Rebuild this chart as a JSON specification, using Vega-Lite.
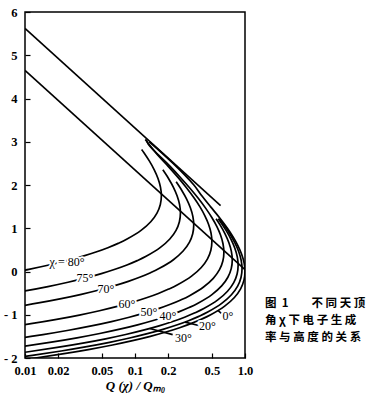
{
  "$schema": "https://vega.github.io/schema/vega-lite/v6.json",
  "width": 220,
  "height": 346,
  "autosize": {"type": "none"},
  "padding": {"left": 25, "top": 12, "right": 123, "bottom": 42},
  "background": "white",
  "config": {
    "view": {"stroke": "black", "strokeWidth": 1.5},
    "axis": {
      "grid": false,
      "domain": false,
      "labelFont": "Liberation Serif",
      "labelFontWeight": "bold",
      "labelFontSize": 12.5,
      "labelColor": "black",
      "tickColor": "black",
      "tickWidth": 1.2,
      "tickSize": -5,
      "labelFlush": false,
      "labelOverlap": false
    }
  },
  "datasets": {
    "curves": [
      {"c":"0","i":0,"q":0.006308,"z":-2.1},{"c":"0","i":1,"q":0.012412,"z":-2.0},{"c":"0","i":2,"q":0.02268,"z":-1.9},{"c":"0","i":3,"q":0.03877,"z":-1.8},{"c":"0","i":4,"q":0.06242,"z":-1.7},{"c":"0","i":5,"q":0.09507,"z":-1.6},{"c":"0","i":6,"q":0.13784,"z":-1.5},{"c":"0","i":7,"q":0.19109,"z":-1.4},{"c":"0","i":8,"q":0.25434,"z":-1.3},{"c":"0","i":9,"q":0.32628,"z":-1.2},{"c":"0","i":10,"q":0.40496,"z":-1.1},{"c":"0","i":11,"q":0.48772,"z":-1.0},{"c":"0","i":12,"q":0.65342,"z":-0.8},{"c":"0","i":13,"q":0.80091,"z":-0.6},{"c":"0","i":14,"q":0.91229,"z":-0.4},{"c":"0","i":15,"q":0.97883,"z":-0.2},{"c":"0","i":16,"q":1.0,"z":0.0},{"c":"0","i":17,"q":0.98147,"z":0.2},{"c":"0","i":18,"q":0.93211,"z":0.4},{"c":"0","i":19,"q":0.86174,"z":0.6},{"c":"0","i":20,"q":0.77933,"z":0.8},{"c":"0","i":21,"q":0.6922,"z":1.0},{"c":"0","i":22,"q":0.58478,"z":1.25},{"c":"0","i":23,"q":0.48522,"z":1.5},{"c":"0","i":24,"q":0.405,"z":1.75},{"c":"0","i":25,"q":0.343,"z":2.0},{"c":"0","i":26,"q":0.222,"z":2.5},{"c":"0","i":27,"q":0.135,"z":3.0},

      {"c":"20","i":0,"q":0.005928,"z":-2.038},{"c":"20","i":1,"q":0.011664,"z":-1.938},{"c":"20","i":2,"q":0.021312,"z":-1.838},{"c":"20","i":3,"q":0.036432,"z":-1.738},{"c":"20","i":4,"q":0.058656,"z":-1.638},{"c":"20","i":5,"q":0.089337,"z":-1.538},{"c":"20","i":6,"q":0.12953,"z":-1.438},{"c":"20","i":7,"q":0.17957,"z":-1.338},{"c":"20","i":8,"q":0.239,"z":-1.238},{"c":"20","i":9,"q":0.30661,"z":-1.138},{"c":"20","i":10,"q":0.38054,"z":-1.038},{"c":"20","i":11,"q":0.45831,"z":-0.938},{"c":"20","i":12,"q":0.61402,"z":-0.738},{"c":"20","i":13,"q":0.75262,"z":-0.538},{"c":"20","i":14,"q":0.85728,"z":-0.338},{"c":"20","i":15,"q":0.91981,"z":-0.138},{"c":"20","i":16,"q":0.9397,"z":0.062},{"c":"20","i":17,"q":0.92229,"z":0.262},{"c":"20","i":18,"q":0.8759,"z":0.462},{"c":"20","i":19,"q":0.80978,"z":0.662},{"c":"20","i":20,"q":0.73234,"z":0.862},{"c":"20","i":21,"q":0.65046,"z":1.062},{"c":"20","i":22,"q":0.58619,"z":1.22},

      {"c":"30","i":0,"q":0.005463,"z":-1.956},{"c":"30","i":1,"q":0.010749,"z":-1.856},{"c":"30","i":2,"q":0.019641,"z":-1.756},{"c":"30","i":3,"q":0.033575,"z":-1.656},{"c":"30","i":4,"q":0.054056,"z":-1.556},{"c":"30","i":5,"q":0.082331,"z":-1.456},{"c":"30","i":6,"q":0.11937,"z":-1.356},{"c":"30","i":7,"q":0.16548,"z":-1.256},{"c":"30","i":8,"q":0.22026,"z":-1.156},{"c":"30","i":9,"q":0.28256,"z":-1.056},{"c":"30","i":10,"q":0.3507,"z":-0.956},{"c":"30","i":11,"q":0.42237,"z":-0.856},{"c":"30","i":12,"q":0.56586,"z":-0.656},{"c":"30","i":13,"q":0.69359,"z":-0.456},{"c":"30","i":14,"q":0.79004,"z":-0.256},{"c":"30","i":15,"q":0.84767,"z":-0.056},{"c":"30","i":16,"q":0.866,"z":0.144},{"c":"30","i":17,"q":0.84995,"z":0.344},{"c":"30","i":18,"q":0.80721,"z":0.544},{"c":"30","i":19,"q":0.74627,"z":0.744},{"c":"30","i":20,"q":0.6749,"z":0.944},{"c":"30","i":21,"q":0.59945,"z":1.144},{"c":"30","i":22,"q":0.57069,"z":1.22},

      {"c":"40","i":0,"q":0.004832,"z":-1.8335},{"c":"40","i":1,"q":0.009508,"z":-1.7335},{"c":"40","i":2,"q":0.017373,"z":-1.6335},{"c":"40","i":3,"q":0.029698,"z":-1.5335},{"c":"40","i":4,"q":0.047814,"z":-1.4335},{"c":"40","i":5,"q":0.072824,"z":-1.3335},{"c":"40","i":6,"q":0.10559,"z":-1.2335},{"c":"40","i":7,"q":0.14637,"z":-1.1335},{"c":"40","i":8,"q":0.19482,"z":-1.0335},{"c":"40","i":9,"q":0.24993,"z":-0.9335},{"c":"40","i":10,"q":0.3102,"z":-0.8335},{"c":"40","i":11,"q":0.37359,"z":-0.7335},{"c":"40","i":12,"q":0.50052,"z":-0.5335},{"c":"40","i":13,"q":0.6135,"z":-0.3335},{"c":"40","i":14,"q":0.69881,"z":-0.1335},{"c":"40","i":15,"q":0.74978,"z":0.0665},{"c":"40","i":16,"q":0.766,"z":0.2665},{"c":"40","i":17,"q":0.75181,"z":0.4665},{"c":"40","i":18,"q":0.714,"z":0.6665},{"c":"40","i":19,"q":0.66009,"z":0.8665},{"c":"40","i":20,"q":0.59697,"z":1.0665},{"c":"40","i":21,"q":0.54583,"z":1.22},

      {"c":"50","i":0,"q":0.007978,"z":-1.5581},{"c":"50","i":1,"q":0.014579,"z":-1.4581},{"c":"50","i":2,"q":0.024921,"z":-1.3581},{"c":"50","i":3,"q":0.040124,"z":-1.2581},{"c":"50","i":4,"q":0.061111,"z":-1.1581},{"c":"50","i":5,"q":0.088604,"z":-1.0581},{"c":"50","i":6,"q":0.12283,"z":-0.9581},{"c":"50","i":7,"q":0.16349,"z":-0.8581},{"c":"50","i":8,"q":0.20973,"z":-0.7581},{"c":"50","i":9,"q":0.26031,"z":-0.6581},{"c":"50","i":10,"q":0.31351,"z":-0.5581},{"c":"50","i":11,"q":0.42002,"z":-0.3581},{"c":"50","i":12,"q":0.51482,"z":-0.1581},{"c":"50","i":13,"q":0.58642,"z":0.0419},{"c":"50","i":14,"q":0.62919,"z":0.2419},{"c":"50","i":15,"q":0.6428,"z":0.4419},{"c":"50","i":16,"q":0.63089,"z":0.6419},{"c":"50","i":17,"q":0.59916,"z":0.8419},{"c":"50","i":18,"q":0.55393,"z":1.0419},{"c":"50","i":19,"q":0.50095,"z":1.2419},{"c":"50","i":20,"q":0.44495,"z":1.4419},{"c":"50","i":21,"q":0.3759,"z":1.6919},{"c":"50","i":22,"q":0.3119,"z":1.9419},{"c":"50","i":23,"q":0.25519,"z":2.1919},{"c":"50","i":24,"q":0.20655,"z":2.4419},{"c":"50","i":25,"q":0.13212,"z":2.9419},{"c":"50","i":26,"q":0.1265,"z":3.05},

      {"c":"60","i":0,"q":0.006206,"z":-1.3069},{"c":"60","i":1,"q":0.01134,"z":-1.2069},{"c":"60","i":2,"q":0.019385,"z":-1.1069},{"c":"60","i":3,"q":0.03121,"z":-1.0069},{"c":"60","i":4,"q":0.047535,"z":-0.9069},{"c":"60","i":5,"q":0.06892,"z":-0.8069},{"c":"60","i":6,"q":0.095545,"z":-0.7069},{"c":"60","i":7,"q":0.12717,"z":-0.6069},{"c":"60","i":8,"q":0.16314,"z":-0.5069},{"c":"60","i":9,"q":0.20248,"z":-0.4069},{"c":"60","i":10,"q":0.24386,"z":-0.3069},{"c":"60","i":11,"q":0.32671,"z":-0.1069},{"c":"60","i":12,"q":0.40046,"z":0.0931},{"c":"60","i":13,"q":0.45615,"z":0.2931},{"c":"60","i":14,"q":0.48942,"z":0.4931},{"c":"60","i":15,"q":0.5,"z":0.6931},{"c":"60","i":16,"q":0.49074,"z":0.8931},{"c":"60","i":17,"q":0.46606,"z":1.0931},{"c":"60","i":18,"q":0.43087,"z":1.2931},{"c":"60","i":19,"q":0.38967,"z":1.4931},{"c":"60","i":20,"q":0.3461,"z":1.6931},{"c":"60","i":21,"q":0.29239,"z":1.9431},{"c":"60","i":22,"q":0.24261,"z":2.1931},{"c":"60","i":23,"q":0.1985,"z":2.4431},{"c":"60","i":24,"q":0.16067,"z":2.6931},{"c":"60","i":25,"q":0.124,"z":3.05},

      {"c":"70","i":0,"q":0.0077566,"z":-0.8271},{"c":"70","i":1,"q":0.013259,"z":-0.7271},{"c":"70","i":2,"q":0.021348,"z":-0.6271},{"c":"70","i":3,"q":0.032514,"z":-0.5271},{"c":"70","i":4,"q":0.047141,"z":-0.4271},{"c":"70","i":5,"q":0.065353,"z":-0.3271},{"c":"70","i":6,"q":0.086984,"z":-0.2271},{"c":"70","i":7,"q":0.11159,"z":-0.1271},{"c":"70","i":8,"q":0.1385,"z":-0.0271},{"c":"70","i":9,"q":0.1668,"z":0.0729},{"c":"70","i":10,"q":0.22347,"z":0.2729},{"c":"70","i":11,"q":0.27391,"z":0.4729},{"c":"70","i":12,"q":0.312,"z":0.6729},{"c":"70","i":13,"q":0.33476,"z":0.8729},{"c":"70","i":14,"q":0.342,"z":1.0729},{"c":"70","i":15,"q":0.33566,"z":1.2729},{"c":"70","i":16,"q":0.31878,"z":1.4729},{"c":"70","i":17,"q":0.29472,"z":1.6729},{"c":"70","i":18,"q":0.26653,"z":1.8729},{"c":"70","i":19,"q":0.23673,"z":2.0729},

      {"c":"75","i":0,"q":0.0058696,"z":-0.5483},{"c":"75","i":1,"q":0.010034,"z":-0.4483},{"c":"75","i":2,"q":0.016154,"z":-0.3483},{"c":"75","i":3,"q":0.024604,"z":-0.2483},{"c":"75","i":4,"q":0.035673,"z":-0.1483},{"c":"75","i":5,"q":0.049454,"z":-0.0483},{"c":"75","i":6,"q":0.065823,"z":0.0517},{"c":"75","i":7,"q":0.084441,"z":0.1517},{"c":"75","i":8,"q":0.1048,"z":0.2517},{"c":"75","i":9,"q":0.12622,"z":0.3517},{"c":"75","i":10,"q":0.16911,"z":0.5517},{"c":"75","i":11,"q":0.20728,"z":0.7517},{"c":"75","i":12,"q":0.2361,"z":0.9517},{"c":"75","i":13,"q":0.25332,"z":1.1517},{"c":"75","i":14,"q":0.2588,"z":1.3517},{"c":"75","i":15,"q":0.254,"z":1.5517},{"c":"75","i":16,"q":0.24123,"z":1.7517},{"c":"75","i":17,"q":0.22302,"z":1.9517},{"c":"75","i":18,"q":0.20169,"z":2.1517},{"c":"75","i":19,"q":0.17914,"z":2.3517},

      {"c":"80","i":0,"q":0.0067324,"z":-0.0493},{"c":"80","i":1,"q":0.010839,"z":0.0507},{"c":"80","i":2,"q":0.016509,"z":0.1507},{"c":"80","i":3,"q":0.023936,"z":0.2507},{"c":"80","i":4,"q":0.033183,"z":0.3507},{"c":"80","i":5,"q":0.044166,"z":0.4507},{"c":"80","i":6,"q":0.056659,"z":0.5507},{"c":"80","i":7,"q":0.070321,"z":0.6507},{"c":"80","i":8,"q":0.084693,"z":0.7507},{"c":"80","i":9,"q":0.11347,"z":0.9507},{"c":"80","i":10,"q":0.13908,"z":1.1507},{"c":"80","i":11,"q":0.15842,"z":1.3507},{"c":"80","i":12,"q":0.16997,"z":1.5507},{"c":"80","i":13,"q":0.17365,"z":1.7507},{"c":"80","i":14,"q":0.17043,"z":1.9507},{"c":"80","i":15,"q":0.16186,"z":2.1507},{"c":"80","i":16,"q":0.14964,"z":2.3507},{"c":"80","i":17,"q":0.13533,"z":2.5507},{"c":"80","i":18,"q":0.1202,"z":2.7507},{"c":"80","i":19,"q":0.1149,"z":2.8207}
    ],
    "lines": [
      {"id":"upper","q":0.01,"z":5.62},{"id":"upper","q":0.6,"z":1.525},
      {"id":"lower","q":0.01,"z":4.65},{"id":"lower","q":1.0,"z":0.044},
      {"id":"lead0","q":0.567,"z":-0.9},{"id":"lead0","q":0.61,"z":-0.97},
      {"id":"lead20","q":0.285,"z":-1.17},{"id":"lead20","q":0.38,"z":-1.25},
      {"id":"lead30","q":0.136,"z":-1.32},{"id":"lead30","q":0.22,"z":-1.46}
    ],
    "labels": [
      {"t":"χ = 80°","q":0.0241,"z":0.22},
      {"t":"75°","q":0.0351,"z":-0.16},
      {"t":"70°","q":0.0545,"z":-0.4},
      {"t":"60°","q":0.0846,"z":-0.76},
      {"t":"50°","q":0.1341,"z":-0.93},
      {"t":"40°","q":0.1995,"z":-1.025},
      {"t":"0°","q":0.7,"z":-1.02},
      {"t":"20°","q":0.456,"z":-1.27},
      {"t":"30°","q":0.276,"z":-1.54}
    ],
    "caption": [
      {"t":"图\u00a0\u00a01\u3000\u3000不\u00a0同\u00a0天\u00a0顶","q":1.52,"z":-0.744},
      {"t":"角\u00a0χ\u00a0下\u00a0电\u00a0子\u00a0生\u00a0成","q":1.52,"z":-1.14},
      {"t":"率\u00a0与\u00a0高\u00a0度\u00a0的\u00a0关\u00a0系","q":1.52,"z":-1.535}
    ]
  },
  "encoding": {
    "x": {
      "field": "q",
      "type": "quantitative",
      "scale": {"type": "log", "domain": [0.01, 1]},
      "axis": {
        "title": "Q (χ) / Qₘ₀",
        "values": [0.01, 0.02, 0.05, 0.1, 0.2, 0.5, 1],
        "format": ".2~f",
        "labelExpr": "datum.value == 1 ? '1.0' : datum.label",
        "labelPadding": 11,
        "titleFont": "Liberation Serif",
        "titleFontStyle": "italic",
        "titleFontWeight": "bold",
        "titleFontSize": 13,
        "titleColor": "black",
        "titlePadding": 3
      }
    },
    "y": {
      "field": "z",
      "type": "quantitative",
      "scale": {"domain": [-2, 6], "nice": false, "zero": false},
      "axis": {
        "title": null,
        "values": [-2, -1, 0, 1, 2, 3, 4, 5, 6],
        "labelExpr": "datum.value < 0 ? '- ' + abs(datum.value) : datum.label",
        "labelPadding": 13
      }
    }
  },
  "layer": [
    {
      "data": {"name": "curves"},
      "mark": {"type": "line", "interpolate": "catmull-rom", "clip": true, "color": "black", "strokeWidth": 1.7},
      "encoding": {"detail": {"field": "c"}, "order": {"field": "i", "type": "quantitative"}}
    },
    {
      "data": {"name": "lines"},
      "mark": {"type": "line", "clip": true, "color": "black", "strokeWidth": 1.6},
      "encoding": {"detail": {"field": "id"}}
    },
    {
      "data": {"name": "labels"},
      "mark": {"type": "text", "font": "Liberation Serif", "fontSize": 12, "align": "center", "baseline": "middle", "stroke": "white", "strokeWidth": 4, "fill": "white"},
      "encoding": {"text": {"field": "t"}}
    },
    {
      "data": {"name": "labels"},
      "mark": {"type": "text", "font": "Liberation Serif", "fontSize": 12, "align": "center", "baseline": "middle", "color": "black"},
      "encoding": {"text": {"field": "t"}}
    },
    {
      "data": {"name": "caption"},
      "mark": {"type": "text", "font": "Noto Sans CJK SC", "fontWeight": "bold", "fontSize": 11.5, "align": "left", "baseline": "middle", "color": "black", "clip": false},
      "encoding": {"text": {"field": "t"}}
    }
  ]
}
